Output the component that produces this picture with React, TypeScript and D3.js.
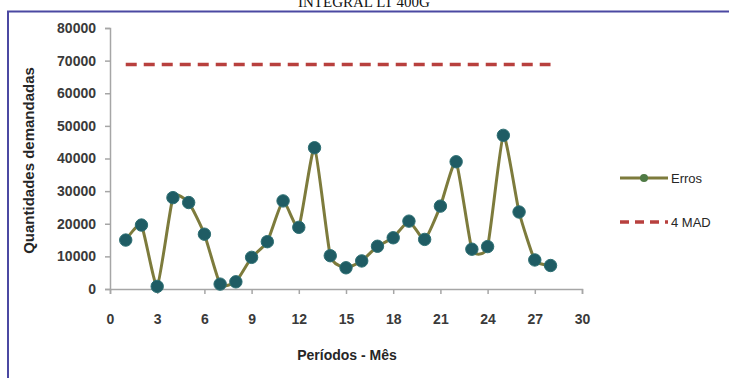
import React, { useEffect, useRef } from "react";
import * as d3 from "d3";

const periods = [1, 2, 3, 4, 5, 6, 7, 8, 9, 10, 11, 12, 13, 14, 15, 16, 17, 18, 19, 20, 21, 22, 23, 24, 25, 26, 27, 28];
const erros = [15000, 19600, 800, 28000, 26500, 16800, 1500, 2200, 9700, 14500, 27000, 18900, 43300, 10200, 6500, 8600, 13100, 15700, 20800, 15200, 25400, 39000, 12200, 13000, 47100, 23600, 8900, 7200];
const mad4 = 68800;
const xTicks = [0, 3, 6, 9, 12, 15, 18, 21, 24, 27, 30];
const yTicks = [0, 10000, 20000, 30000, 40000, 50000, 60000, 70000, 80000];
const title = "INTEGRAL LT 400G";
const seriesNames = ["Erros", "4 MAD"];

const W = 729;
const H = 378;
const FONT = "'Liberation Sans', Arial, sans-serif";

export default function App() {
  const ref = useRef<SVGSVGElement>(null);

  useEffect(() => {
    const svg = d3.select(ref.current);
    svg.selectAll("*").remove();

    const x = d3.scaleLinear().domain([0, 30]).range([110, 582]);
    const y = d3.scaleLinear().domain([0, 80000]).range([289, 28]);

    // frame
    svg.append("rect").attr("width", W).attr("height", H).attr("fill", "#fff");
    svg.append("path")
      .attr("d", `M8,${H} L8,11.5 L${W},11.5`)
      .attr("fill", "none").attr("stroke", "#4b48a2").attr("stroke-width", 2);

    svg.append("text")
      .attr("x", 364).attr("y", 7)
      .attr("text-anchor", "middle")
      .attr("font-family", "'Liberation Serif', 'Times New Roman', serif")
      .attr("font-size", 15)
      .attr("fill", "#111")
      .text(title);

    const axisColor = "#a6a6a6";

    // y axis
    const yAxis = svg.append("g").attr("transform", `translate(${x(0)},0)`)
      .call(d3.axisLeft(y).tickValues(yTicks).tickSize(5).tickFormat(d3.format("d")));
    yAxis.select(".domain").attr("stroke", axisColor).attr("stroke-width", 1.5);
    yAxis.selectAll(".tick line").attr("stroke", axisColor).attr("stroke-width", 1.5);
    yAxis.selectAll(".tick text")
      .attr("x", -14)
      .attr("font-family", FONT).attr("font-size", 14).attr("font-weight", "bold")
      .attr("fill", "#3a3a3a");

    // x axis
    const xAxis = svg.append("g").attr("transform", `translate(0,${y(0)})`)
      .call(d3.axisBottom(x).tickValues(xTicks).tickSize(5).tickFormat(d3.format("d")));
    xAxis.select(".domain").attr("stroke", axisColor).attr("stroke-width", 1.5);
    xAxis.selectAll(".tick line").attr("stroke", axisColor).attr("stroke-width", 1.5);
    xAxis.selectAll(".tick text")
      .attr("y", 25)
      .attr("font-family", FONT).attr("font-size", 14).attr("font-weight", "bold")
      .attr("fill", "#3a3a3a");

    // axis titles
    svg.append("text")
      .attr("transform", `translate(34,${(y(0) + y(80000)) / 2 + 2}) rotate(-90)`)
      .attr("text-anchor", "middle")
      .attr("font-family", FONT).attr("font-size", 15).attr("font-weight", "bold")
      .attr("fill", "#262626")
      .text("Quantidades demandadas");
    svg.append("text")
      .attr("x", 347).attr("y", 360)
      .attr("text-anchor", "middle")
      .attr("font-family", FONT).attr("font-size", 14).attr("font-weight", "bold")
      .attr("fill", "#262626")
      .text("Períodos - Mês");

    const redColor = "#b8403e";
    const lineColor = "#7d7b3c";
    const markerColor = "#1f5c64";

    // 4 MAD reference line
    svg.append("line")
      .attr("x1", x(periods[0])).attr("x2", x(periods[periods.length - 1]))
      .attr("y1", y(mad4)).attr("y2", y(mad4))
      .attr("stroke", redColor).attr("stroke-width", 3.5)
      .attr("stroke-dasharray", "11,7");

    // Erros series
    const line = d3.line<number>()
      .x((_, i) => x(periods[i]))
      .y((d) => y(d))
      .curve(d3.curveCardinal.tension(0.5));
    svg.append("path")
      .attr("d", line(erros))
      .attr("fill", "none").attr("stroke", lineColor).attr("stroke-width", 3);

    svg.append("g").selectAll("circle").data(erros).join("circle")
      .attr("cx", (_, i) => x(periods[i]))
      .attr("cy", (d) => y(d))
      .attr("r", 6.2)
      .attr("fill", markerColor)
      .attr("stroke", "#2d6f73").attr("stroke-width", 1);

    // legend
    const lg = svg.append("g");
    lg.append("line").attr("x1", 620).attr("x2", 668).attr("y1", 178).attr("y2", 178)
      .attr("stroke", lineColor).attr("stroke-width", 3);
    lg.append("circle").attr("cx", 644).attr("cy", 178).attr("r", 4).attr("fill", "#4f7a45");
    lg.append("text").attr("x", 671).attr("y", 183)
      .attr("font-family", FONT).attr("font-size", 13).attr("fill", "#262626")
      .text(seriesNames[0]);
    lg.append("line").attr("x1", 620).attr("x2", 668).attr("y1", 222).attr("y2", 222)
      .attr("stroke", redColor).attr("stroke-width", 3.5).attr("stroke-dasharray", "9,6");
    lg.append("text").attr("x", 671).attr("y", 227)
      .attr("font-family", FONT).attr("font-size", 13).attr("fill", "#262626")
      .text(seriesNames[1]);
  }, []);

  return (
    <svg
      ref={ref}
      width={W}
      height={H}
      style={{ position: "absolute", left: 0, top: 0, display: "block" }}
    />
  );
}
